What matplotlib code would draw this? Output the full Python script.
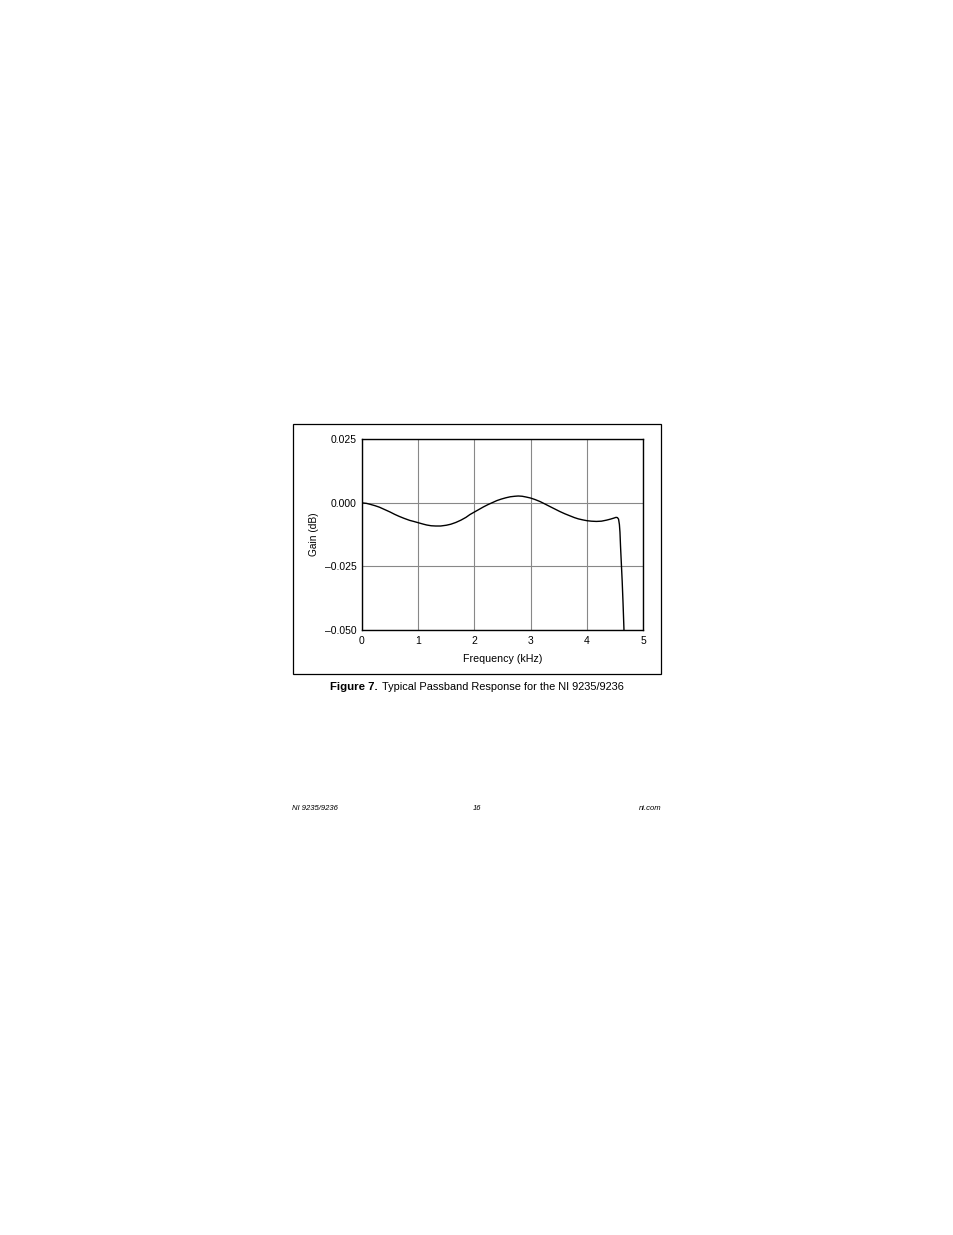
import matplotlib.pyplot as plt
from matplotlib.patches import Rectangle

# values
freq_khz = [0.0, 0.08, 0.15, 0.23, 0.31, 0.4, 0.5, 0.58, 0.66, 0.75, 0.85,
            0.92, 1.0, 1.08, 1.15, 1.23, 1.31, 1.4, 1.5, 1.58, 1.67, 1.76,
            1.85, 1.92, 2.0, 2.08, 2.16, 2.24, 2.32, 2.4, 2.48, 2.56, 2.64,
            2.72, 2.78, 2.85, 2.92, 3.0, 3.08, 3.17, 3.26, 3.34, 3.43, 3.52,
            3.61, 3.70, 3.78, 3.85, 3.93, 4.0, 4.08, 4.17, 4.26, 4.35, 4.42,
            4.48, 4.52, 4.545, 4.565, 4.58, 4.59, 4.60, 4.615, 4.63, 4.645,
            4.66, 4.67]
gain_db = [0.0, -0.0002, -0.0006, -0.0011, -0.0017, -0.0026, -0.0036,
           -0.0045, -0.0053, -0.0061, -0.0069, -0.0073, -0.0078, -0.0083,
           -0.0087, -0.0090, -0.0091, -0.0091, -0.0088, -0.0084, -0.0077,
           -0.0068, -0.0057, -0.0046, -0.0036, -0.0026, -0.0016, -0.0007,
           0.0001, 0.0009, 0.0015, 0.0020, 0.0024, 0.0026, 0.0027, 0.0026,
           0.0023, 0.0019, 0.0013, 0.0005, -0.0005, -0.0014, -0.0024, -0.0034,
           -0.0043, -0.0051, -0.0058, -0.0063, -0.0067, -0.0070, -0.0072,
           -0.0073, -0.0072, -0.0068, -0.0064, -0.0060, -0.0057, -0.0058,
           -0.0064, -0.0085, -0.0115, -0.0170, -0.0240, -0.0310, -0.0395,
           -0.0490, -0.0560]

x_ticks = [0, 1, 2, 3, 4, 5]
y_ticks = [-0.050, -0.025, 0.000, 0.025]
y_tick_labels = ['\u20130.050', '\u20130.025', '0.000', '0.025']

FONT = ['Liberation Sans', 'DejaVu Sans']
W, H = 954, 1235

fig = plt.figure(figsize=(W / 100, H / 100), dpi=100)
fig.patch.set_facecolor('white')

# outer frame around the figure
fig.patches.append(Rectangle((293 / W, 1 - 674 / H), (661 - 293) / W, 250 / H,
                             transform=fig.transFigure, fill=False,
                             edgecolor='black', linewidth=0.9))

ax = fig.add_axes([362 / W, 1 - 630 / H, (643 - 362) / W, (630 - 439.3) / H])
ax.plot(freq_khz, gain_db, color='black', linewidth=1.0, zorder=3)
ax.set_xlim(0, 5)
ax.set_ylim(-0.050, 0.025)
ax.set_xticks(x_ticks)
ax.set_xticklabels([str(t) for t in x_ticks], family=FONT, fontsize=7.5)
ax.set_yticks(y_ticks)
ax.set_yticklabels(y_tick_labels, family=FONT, fontsize=7.5)
ax.tick_params(axis='x', length=0, pad=4.5)
ax.tick_params(axis='y', length=0, pad=4)
ax.grid(True, color='#888888', linewidth=0.8)
for s in ax.spines.values():
    s.set_linewidth(1.0)
    s.set_color('black')
ax.set_xlabel('Frequency (kHz)', family=FONT, fontsize=7.7, labelpad=5.5)
ax.set_ylabel('Gain (dB)', family=FONT, fontsize=7.3, labelpad=4)

# caption
fig.text(330 / W, 1 - 687 / H, 'Figure 7.', family=FONT, fontsize=8.2,
         fontweight='bold', ha='left', va='center')
fig.text(382.5 / W, 1 - 687 / H, 'Typical Passband Response for the NI 9235/9236',
         family=FONT, fontsize=7.9, ha='left', va='center')

# page footer
fig.text(292 / W, 1 - 808 / H, 'NI 9235/9236', family=FONT, fontsize=5.5,
         style='italic', ha='left', va='center')
fig.text(477 / W, 1 - 808 / H, '16', family=FONT, fontsize=5.5,
         style='italic', ha='center', va='center')
fig.text(662 / W, 1 - 808 / H, 'ni.com', family=FONT, fontsize=5.5,
         style='italic', ha='right', va='center')

fig.savefig('out.png', dpi=100)
